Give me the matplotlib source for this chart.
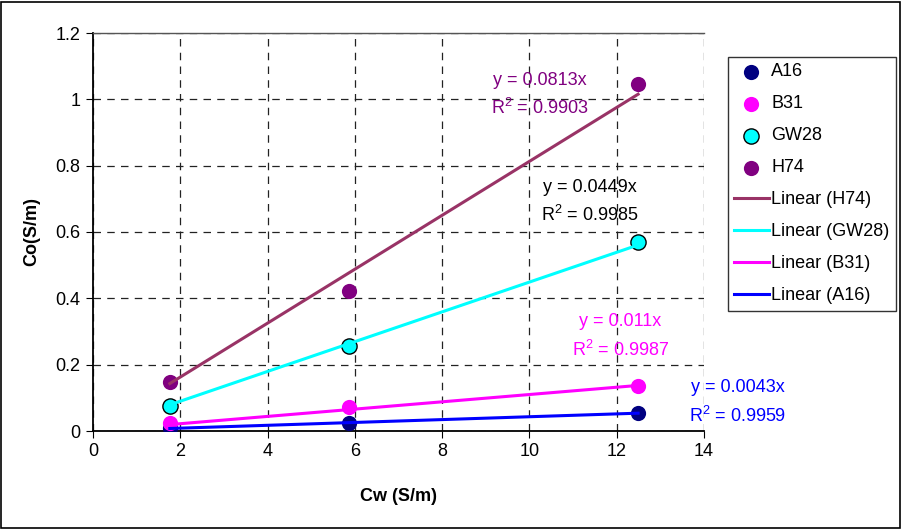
import matplotlib
matplotlib.use("Agg")
import matplotlib.pyplot as plt
from matplotlib.patches import Rectangle

plt.rcParams['font.family'] = ['Liberation Sans', 'DejaVu Sans']
plt.rcParams['mathtext.fontset'] = 'custom'
plt.rcParams['mathtext.rm'] = 'Liberation Sans'
plt.rcParams['mathtext.it'] = 'Liberation Sans'

cw = [1.76, 5.87, 12.49]
series = ["A16", "B31", "GW28", "H74"]
co_A16 = [0.009, 0.025, 0.053]
co_B31 = [0.025, 0.071, 0.136]
co_GW28 = [0.076, 0.256, 0.571]
co_H74 = [0.149, 0.422, 1.046]
slopes = {"H74": 0.0813, "GW28": 0.0449, "B31": 0.011, "A16": 0.0043}
r2 = {"H74": "0.9903", "GW28": "0.9985", "B31": "0.9987", "A16": "0.9959"}
eq_text = {"H74": "0.0813", "GW28": "0.0449", "B31": "0.011", "A16": "0.0043"}
xticks = [0, 2, 4, 6, 8, 10, 12, 14]
yticks = [0, 0.2, 0.4, 0.6, 0.8, 1.0, 1.2]
yticklabels = ["0", "0.2", "0.4", "0.6", "0.8", "1", "1.2"]

data = {"A16": co_A16, "B31": co_B31, "GW28": co_GW28, "H74": co_H74}
mcol = {"A16": "#000080", "B31": "#FF00FF", "GW28": "#00FFFF", "H74": "#800080"}
medge = {"A16": "#000080", "B31": "#FF00FF", "GW28": "#000000", "H74": "#800080"}
lcol = {"H74": "#993366", "GW28": "#00FFFF", "B31": "#FF00FF", "A16": "#0000FF"}
tcol = {"H74": "#800080", "GW28": "#000000", "B31": "#FF00FF", "A16": "#0000FF"}
tpos = {"H74": (10.24, 1.058, 0.974), "GW28": (11.39, 0.733, 0.651),
        "B31": (12.08, 0.329, 0.244), "A16": (14.78, 0.130, 0.045)}

W, H = 902, 529
fig = plt.figure(figsize=(W / 100, H / 100), dpi=100)
ax = fig.add_axes([93 / W, 1 - 431 / H, (704 - 93) / W, (431 - 33) / H])

fig.patches.append(Rectangle((1 / W, 1 / H), (W - 3) / W, (H - 3) / H,
                             transform=fig.transFigure, fill=False,
                             edgecolor="black", linewidth=1.2))

FS = 13

handles = []
for s in series:
    h = ax.scatter(cw, data[s], s=120, color=mcol[s], edgecolors=medge[s],
                   linewidths=1.0 if s == "GW28" else 0, zorder=3, label=s)
    handles.append(h)

xmin, xmax = min(cw), max(cw)
for s in ["H74", "GW28", "B31", "A16"]:
    k = slopes[s]
    ln, = ax.plot([xmin, xmax], [k * xmin, k * xmax], color=lcol[s], lw=2.2,
                  zorder=4, label=f"Linear ({s})")
    handles.append(ln)
    x, y1, y2 = tpos[s]
    ax.text(x, y1, f"y = {eq_text[s]}x", color=tcol[s], fontsize=FS,
            ha="center", va="center", zorder=5, clip_on=False)
    ax.text(x, y2, f"R$^{{\\mathregular{{2}}}}$ = {r2[s]}", color=tcol[s], fontsize=FS,
            ha="center", va="center", zorder=5, clip_on=False)

ax.set_xlim(0, 14)
ax.set_ylim(0, 1.2)
ax.set_xticks(xticks)
ax.set_yticks(yticks)
ax.set_yticklabels(yticklabels)
ax.tick_params(labelsize=FS, length=5, direction="out", color="black", pad=4)
ax.grid(True, color="#222222", linestyle=(0, (6, 5)), linewidth=0.9)
ax.set_axisbelow(True)
ax.spines["right"].set_visible(False)
ax.spines["top"].set_color("#555555")
ax.spines["top"].set_linewidth(1.0)
ax.spines["left"].set_linewidth(1.3)
ax.spines["bottom"].set_linewidth(1.3)

ax.set_xlabel("Cw (S/m)", fontsize=FS, fontweight="bold", labelpad=20)
ax.set_ylabel("Co(S/m)", fontsize=FS, fontweight="bold", labelpad=11)

leg = fig.legend(handles=handles, loc="upper left",
                 bbox_to_anchor=(728 / W, 1 - 57 / H), fontsize=FS,
                 frameon=True, fancybox=False, edgecolor="black",
                 handlelength=1.9, handletextpad=0.15, labelspacing=0.83,
                 borderpad=0.35, scatterpoints=1, borderaxespad=0)
leg.get_frame().set_linewidth(1.0)

fig.savefig("out.png", dpi=100)
